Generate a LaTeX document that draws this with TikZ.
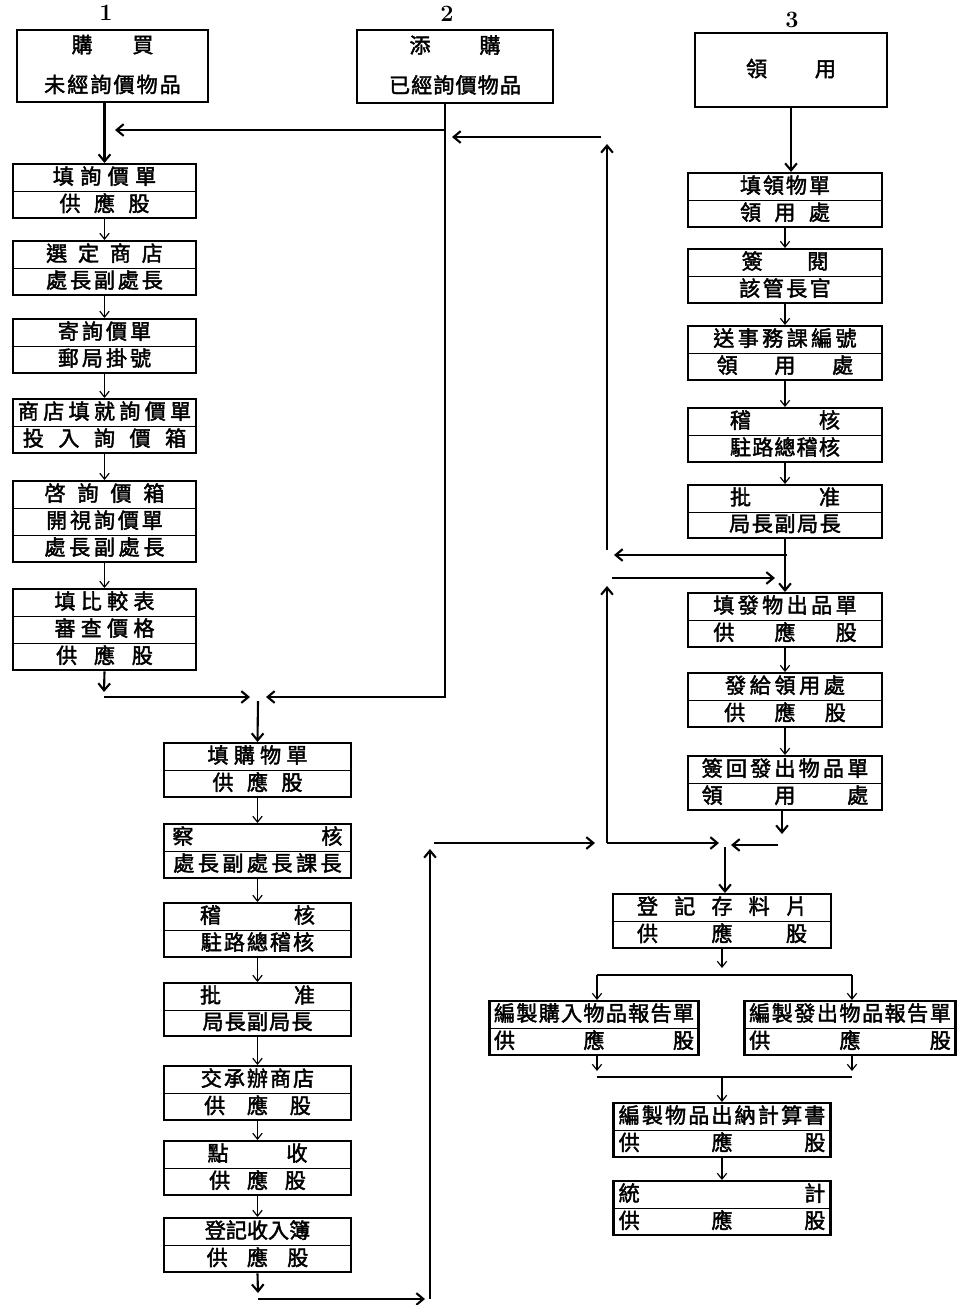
\documentclass[tikz,border=0pt]{standalone}
\usepackage{fontspec}
\newfontfamily\cjk[FakeBold=2]{Noto Sans CJK TC}
\usetikzlibrary{arrows.meta,shapes.multipart,calc}

% one row of a box: characters spread over the given width
\newcommand\rw[2][5cm]{\makebox[#1]{\spaceskip=0pt plus 1fill\relax\rule[-4pt]{0pt}{17pt}#2}}

\begin{document}
\begin{tikzpicture}[x=0.03cm, y=-0.03cm, line width=1pt,
    box/.style={rectangle split, rectangle split parts=2, rectangle split draw splits=false,
                draw, line width=1.8pt, inner xsep=3pt, inner ysep=1pt, anchor=north,
                align=center, text width=#1cm, font=\cjk\fontsize{18}{20}\selectfont},
    boxiii/.style={box=#1, rectangle split parts=3},
    head/.style={draw, line width=2pt, align=center, font=\cjk\fontsize{18}{34}\selectfont},
    num/.style={font=\bfseries\fontsize{20}{22}\selectfont},
    link/.style={-{Straight Barb[length=5pt,width=8pt]}, line width=1pt},
    flow/.style={-{Straight Barb[length=6pt,width=10pt]}, line width=1.8pt}
  ]
\useasboundingbox (0,0) rectangle (965,1305);

% --- the three starting cases ---
\node[num] (N1) at (106,13) {1};
\node[num] (N2) at (447,14) {2};
\node[num] (N3) at (792,20) {3};
\node[head, minimum width=5.73cm, minimum height=2.16cm] (H1) at (112.5,66)
  {\rw[2.46cm]{購 買}\\\rw[4.1cm]{未 經 詢 價 物 品}};
\node[head, minimum width=5.88cm, minimum height=2.19cm] (H2) at (455,66.5)
  {\rw[2.73cm]{添 購}\\\rw[3.96cm]{已 經 詢 價 物 品}};
\node[head, minimum width=5.76cm, minimum height=2.22cm] (H3) at (791,70)
  {\rw[2.7cm]{領 用}};

% --- left column: enquiry ---
\node[box=5.28] (A1) at (104.5,163) {\rw[3.1cm]{填 詢 價 單}\nodepart{two}\rw[2.7cm]{供 應 股}};
\node[box=5.28] (A2) at (104.5,240) {\rw[3.5cm]{選 定 商 店}\nodepart{two}\rw[3.5cm]{處 長 副 處 長}};
\node[box=5.28] (A3) at (104.5,318) {\rw[2.8cm]{寄 詢 價 單}\nodepart{two}\rw[2.8cm]{郵 局 掛 號}};
\node[box=5.28] (A4) at (104.5,398) {\rw[5.2cm]{商 店 填 就 詢 價 單}\nodepart{two}\rw[4.9cm]{投 入 詢 價 箱}};
\node[boxiii=5.28] (A5) at (104.5,480) {\rw[3.6cm]{啓 詢 價 箱}\nodepart{two}\rw[3.5cm]{開 視 詢 價 單}\nodepart{three}\rw[3.6cm]{處 長 副 處 長}};
\node[boxiii=5.28] (A6) at (104.5,588) {\rw[3.0cm]{填 比 較 表}\nodepart{two}\rw[3.0cm]{審 查 價 格}\nodepart{three}\rw[2.9cm]{供 應 股}};

% --- middle column: purchase ---
\node[box=5.4] (B1) at (257.5,742) {\rw[3.0cm]{填 購 物 單}\nodepart{two}\rw[2.7cm]{供 應 股}};
\node[box=5.4] (B2) at (257.5,823) {\rw[5.1cm]{察 核}\nodepart{two}\rw[5.05cm]{處 長 副 處 長 課 長}};
\node[box=5.4] (B3) at (257.5,902) {\rw[3.45cm]{稽 核}\nodepart{two}\rw[3.4cm]{駐 路 總 稽 核}};
\node[box=5.4] (B4) at (257.5,982) {\rw[3.45cm]{批 准}\nodepart{two}\rw[3.3cm]{局 長 副 局 長}};
\node[box=5.4] (B5) at (257.5,1065) {\rw[3.4cm]{交 承 辦 商 店}\nodepart{two}\rw[3.2cm]{供 應 股}};
\node[box=5.4] (B6) at (257.5,1140) {\rw[3.0cm]{點 收}\nodepart{two}\rw[2.9cm]{供 應 股}};
\node[box=5.4] (B7) at (257.5,1217) {\rw[3.15cm]{登 記 收 入 簿}\nodepart{two}\rw[3.05cm]{供 應 股}};

% --- right column: requisition ---
\node[box=5.61] (C1) at (785,172) {\rw[2.7cm]{填 領 物 單}\nodepart{two}\rw[2.7cm]{領 用 處}};
\node[box=5.61] (C2) at (785,248) {\rw[2.6cm]{簽 閱}\nodepart{two}\rw[2.75cm]{該 管 長 官}};
\node[box=5.61] (C3) at (785,325) {\rw[4.3cm]{送 事 務 課 編 號}\nodepart{two}\rw[4.1cm]{領 用 處}};
\node[box=5.61] (C4) at (785,407) {\rw[3.3cm]{稽 核}\nodepart{two}\rw[3.3cm]{駐 路 總 稽 核}};
\node[box=5.61] (C5) at (785,484) {\rw[3.3cm]{批 准}\nodepart{two}\rw[3.35cm]{局 長 副 局 長}};
\node[box=5.61] (C6) at (785,592) {\rw[4.3cm]{填 發 物 出 品 單}\nodepart{two}\rw[4.3cm]{供 應 股}};
\node[box=5.61] (C7) at (785,672) {\rw[3.6cm]{發 給 領 用 處}\nodepart{two}\rw[3.65cm]{供 應 股}};
\node[box=5.61] (C8) at (785,755) {\rw[5.0cm]{簽 回 發 出 物 品 單}\nodepart{two}\rw[5.0cm]{領 用 處}};

% --- bottom: records and reports ---
\node[box=6.33] (D1) at (722,893) {\rw[5.1cm]{登 記 存 料 片}\nodepart{two}\rw[5.1cm]{供 應 股}};
\node[box=6.06] (D2) at (594,1000) {\rw[6.0cm]{編 製 購 入 物 品 報 告 單}\nodepart{two}\rw[6.0cm]{供 應 股}};
\node[box=6.12] (D3) at (850,1000) {\rw[6.05cm]{編 製 發 出 物 品 報 告 單}\nodepart{two}\rw[6.05cm]{供 應 股}};
\node[box=6.3] (D4) at (722,1102) {\rw[6.2cm]{編 製 物 品 出 納 計 算 書}\nodepart{two}\rw[6.2cm]{供 應 股}};
\node[box=6.3] (D5) at (722,1180) {\rw[6.2cm]{統 計}\nodepart{two}\rw[6.2cm]{供 應 股}};

% thin rules inside the boxes
\foreach \n in {A1,A2,A3,A4,A5,A6,B1,B2,B3,B4,B5,B6,B7,C1,C2,C3,C4,C5,C6,C7,C8,D1,D2,D3,D4,D5}
  \draw[line width=0.7pt] (\n.text split west) -- (\n.text split east);
\foreach \n in {A5,A6}
  \draw[line width=0.7pt] (\n.two split west) -- (\n.two split east);

% --- coordinates of the long runs ---
\coordinate (P1) at (445,130);   % crossing on the 添購 line
\coordinate (P2) at (115,130);
\coordinate (P3) at (445,697);   % foot of the 添購 line
\coordinate (P4) at (266,697);
\coordinate (P5) at (104,692);   % under 填比較表
\coordinate (P6) at (104,697);
\coordinate (P7) at (250,697);
\coordinate (P8) at (258,701);   % top of the drop to 填購物單

\coordinate (Q1) at (787,555);   % on the line under 批准 (right)
\coordinate (Q2) at (614,555);
\coordinate (Q3) at (607,550);   % upper riser
\coordinate (Q4) at (607,144);
\coordinate (Q5) at (601,137);
\coordinate (Q6) at (452,137);

\coordinate (S1) at (258,1293);  % under 登記收入簿
\coordinate (S2) at (258,1299);
\coordinate (S3) at (425,1299);
\coordinate (S4) at (430,1299);  % long riser
\coordinate (S5) at (430,849);
\coordinate (S6) at (434,843);
\coordinate (S7) at (595,843);

\coordinate (U1) at (607,586);   % lower riser
\coordinate (U2) at (607,843);
\coordinate (U3) at (719,843);
\coordinate (U4) at (612,578);
\coordinate (U5) at (775,578);

\coordinate (V1) at (782,834);   % under 簽回發出物品單
\coordinate (V2) at (778,845);
\coordinate (V3) at (731,845);
\coordinate (V4) at (725,847);

\coordinate (W1) at (722,968);   % branch to the two reports
\coordinate (W2) at (597,975);
\coordinate (W3) at (852,975);
\coordinate (W4) at (597,1077);  % join of the two reports
\coordinate (W5) at (852,1077);
\coordinate (W6) at (597,1071);
\coordinate (W7) at (852,1071);

% --- connectors ---
\foreach \a/\b in {A1/A2,A2/A3,A3/A4,A4/A5,A5/A6,B1/B2,B2/B3,B3/B4,B4/B5,B5/B6,B6/B7,
                   C1/C2,C2/C3,C3/C4,C4/C5,C6/C7,C7/C8,D4/D5}
  \draw[link] (\a.south) -- (\b.north);

\draw[flow] (H1.south -| A1.north) -- (A1.north);
\draw[flow] (H2.south -| P1) -- (P3) -- (P4);
\draw[flow] (P1) -- (P2);
\draw[flow] (A6.south) -- (P5);
\draw[flow] (P6) -- (P7);
\draw[flow] (P8) -- (B1.north);
\draw[flow] (H3.south) -- (H3.south |- C1.north);

\draw[flow] (C5.south) -- (C6.north);
\draw[flow] (Q1) -- (Q2);
\draw[flow] (Q3) -- (Q4);
\draw[flow] (Q5) -- (Q6);

\draw[flow] (B7.south) -- (S1);
\draw[flow] (S2) -- (S3);
\draw[flow] (S4) -- (S5);
\draw[flow] (S6) -- (S7);
\draw[flow] (U2) -- (U1);
\draw[flow] (U2) -- (U3);
\draw[flow] (U4) -- (U5);
\draw[flow] (C8.south -| V1) -- (V1);
\draw[flow] (V2) -- (V3);
\draw[flow] (V4) -- (D1.north -| V4);

\draw[link] (D1.south) -- (W1);
\draw[flow, -] (W2) -- (W3);
\draw[link] (W2) -- (W2 |- D2.north);
\draw[link] (W3) -- (W3 |- D3.north);
\draw[link] (D2.south -| W6) -- (W6);
\draw[link] (D3.south -| W7) -- (W7);
\draw[flow, -] (W4) -- (W5);
\draw[link] (W4 -| D4.north) -- (D4.north);

\end{tikzpicture}
\end{document}
